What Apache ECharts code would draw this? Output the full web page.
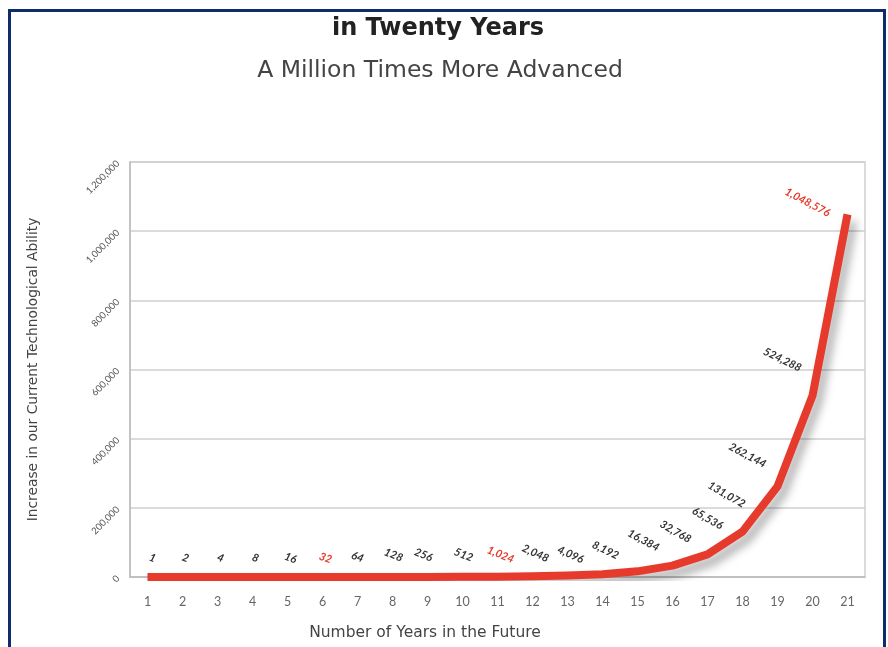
<!DOCTYPE html>
<html>
<head>
<meta charset="utf-8">
<script src="https://cdn.jsdelivr.net/npm/echarts@6/dist/echarts.min.js"></script>
<style>
html,body{margin:0;padding:0;background:#fff;}
#chart{width:888px;height:647px;}
</style>
</head>
<body>
<div id="chart"></div>
<script>
// ---- data ----
const YEARS = ['1','2','3','4','5','6','7','8','9','10','11','12','13','14','15','16','17','18','19','20','21'];
const ABILITY = [1,2,4,8,16,32,64,128,256,512,1024,2048,4096,8192,16384,32768,65536,131072,262144,524288,1048576];
const HIGHLIGHT_YEARS = ['6','11','21'];
const Y_TICKS = [0,200000,400000,600000,800000,1000000,1200000];
const TITLE = 'in Twenty Years';
const SUBTITLE = 'A Million Times More Advanced';
const X_NAME = 'Number of Years in the Future';
const Y_NAME = 'Increase in our Current Technological Ability';

// ---- style: label nudges (pixels) ----
const LABEL_NUDGE = [
  [5,-19],[3,-19],[3,-19],[3,-19],[3,-19],[3,-19],[0,-20],[1,-22],[-4,-22],[1,-22],
  [3,-22],[3,-23],[3,-21],[3,-24],[6,-31],[3,-34],[0,-36],[-16,-37],[-30,-31],[-30,-36],[-40,-12]
];
const LABEL_ROT = [-20,-20,-20,-20,-20,-20,-20,-22,-22,-22,-22,-24,-24,-26,-28,-30,-30,-30,-28,-26,-28];

const RED = '#e53a2c';
const fmt = v => Number(v).toLocaleString('en-US');

const chart = echarts.init(document.getElementById('chart'));
const FONT = 'DejaVu Sans';
const LFONT = 'Lato';

const lineData = ABILITY.map((v, i) => ({
  value: v,
  symbolOffset: LABEL_NUDGE[i],
  label: {
    rotate: LABEL_ROT[i],
    color: HIGHLIGHT_YEARS.includes(YEARS[i]) ? RED : '#333'
  }
}));

chart.setOption({
  animation: false,
  backgroundColor: '#fff',
  title: [
    {text: TITLE, left: 433, top: 12, textAlign: 'center',
     textStyle: {fontFamily: FONT, fontSize: 24, fontWeight: 'bold', color: '#222'}},
    {text: SUBTITLE, left: 435, top: 54, textAlign: 'center',
     textStyle: {fontFamily: FONT, fontSize: 23.5, fontWeight: 'normal', color: '#444'}},
    {text: X_NAME, left: 420, top: 620, textAlign: 'center',
     textStyle: {fontFamily: FONT, fontSize: 15.5, fontWeight: 'normal', color: '#444'}}
  ],
  graphic: [
    {type: 'rect', shape: {x: 9.5, y: 10.5, width: 875, height: 660},
     style: {fill: 'none', stroke: '#0e2c6c', lineWidth: 3}, z: 100}
  ],
  grid: {left: 130, right: 23, top: 162, bottom: 70, show: true,
         borderColor: '#cfcfcf', borderWidth: 1.5, containLabel: false},
  xAxis: {
    type: 'category',
    data: YEARS,
    boundaryGap: true,
    axisLine: {show: true, lineStyle: {color: '#bbb', width: 1.5}},
    axisTick: {show: false},
    axisLabel: {color: '#666', fontFamily: LFONT, fontSize: 12.5, margin: 18}
  },
  yAxis: {
    type: 'value',
    min: Y_TICKS[0],
    max: Y_TICKS[Y_TICKS.length - 1],
    interval: Y_TICKS[1] - Y_TICKS[0],
    name: Y_NAME,
    nameLocation: 'middle',
    nameGap: 90,
    nameTextStyle: {fontFamily: FONT, fontSize: 13.8, color: '#444'},
    axisLine: {show: true, lineStyle: {color: '#bbb', width: 1.5}},
    axisTick: {show: false},
    splitLine: {show: true, lineStyle: {color: '#cfcfcf', width: 1.5}},
    axisLabel: {color: '#555', fontFamily: LFONT, fontSize: 9.5, rotate: 45, margin: 12,
                formatter: v => fmt(v)}
  },
  series: [{
    type: 'line',
    data: lineData,
    symbol: 'circle',
    symbolSize: 1,
    showSymbol: true,
    itemStyle: {color: 'rgba(0,0,0,0)'},
    lineStyle: {color: RED, width: 8, cap: 'butt', join: 'round',
                shadowColor: 'rgba(0,0,0,0.35)', shadowBlur: 10, shadowOffsetX: 5, shadowOffsetY: 7},
    label: {
      show: true,
      position: 'inside',
      align: 'center',
      verticalAlign: 'middle',
      fontFamily: LFONT,
      fontStyle: 'italic',
      fontWeight: 'bold',
      fontSize: 11,
      formatter: p => fmt(p.value)
    },
    emphasis: {disabled: true}
  }]
});
</script>
</body>
</html>
